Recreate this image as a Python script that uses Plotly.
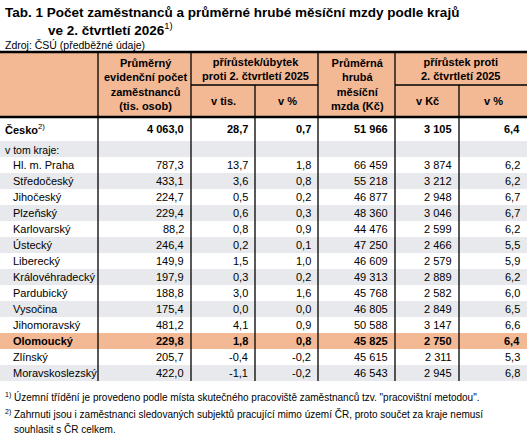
import plotly.graph_objects as go

regions = ["Česko", "v tom kraje:", "Hl. m. Praha", "Středočeský", "Jihočeský", "Plzeňský",
           "Karlovarský", "Ústecký", "Liberecký", "Královéhradecký", "Pardubický", "Vysočina",
           "Jihomoravský", "Olomoucký", "Zlínský", "Moravskoslezský"]
employees = ["4 063,0", "", "787,3", "433,1", "224,7", "229,4", "88,2", "246,4", "149,9", "197,9",
             "188,8", "175,4", "481,2", "229,8", "205,7", "422,0"]
emp_diff = ["28,7", "", "13,7", "3,6", "0,5", "0,6", "0,8", "0,2", "1,5", "0,3", "3,0", "0,0",
            "4,1", "1,8", "-0,4", "-1,1"]
emp_pct = ["0,7", "", "1,8", "0,8", "0,2", "0,3", "0,9", "0,1", "1,0", "0,2", "1,6", "0,0",
           "0,9", "0,8", "-0,2", "-0,2"]
wage = ["51 966", "", "66 459", "55 218", "46 877", "48 360", "44 476", "47 250", "46 609",
        "49 313", "45 768", "46 805", "50 588", "45 825", "45 615", "46 543"]
wage_diff = ["3 105", "", "3 874", "3 212", "2 948", "3 046", "2 599", "2 466", "2 579", "2 889",
             "2 582", "2 849", "3 147", "2 750", "2 311", "2 945"]
wage_pct = ["6,4", "", "6,2", "6,2", "6,7", "6,7", "6,2", "5,5", "5,9", "6,2", "6,0", "6,5",
            "6,6", "6,4", "5,3", "6,8"]
highlight = "Olomoucký"

SALMON = "#F3B894"
GREY = "#E7E9EC"
FONT = "Liberation Sans, Arial, sans-serif"
cols = [0, 98, 191, 255, 318, 395, 459, 527]

# row geometry
row_tops = [117, 141] + [157 + 16 * i for i in range(14)]
row_bottoms = row_tops[1:] + [381]

shapes, ann = [], []


def rect(x0, y0, x1, y1, color):
    shapes.append(dict(type="rect", x0=x0, y0=y0, x1=x1, y1=y1, fillcolor=color,
                       line=dict(width=0), layer="below"))


def line(x0, y0, x1, y1, w=1.3):
    shapes.append(dict(type="line", x0=x0, y0=y0, x1=x1, y1=y1, line=dict(color="black", width=w)))


def text(x, y, s, size=11, bold=False, anchor="left", color="black"):
    if bold:
        s = "<b>" + s + "</b>"
    ann.append(dict(x=x, y=y, text=s, showarrow=False, xanchor=anchor, yanchor="middle",
                    font=dict(family=FONT, size=size, color=color), align="center"))


# header
rect(0, 52, 527, 116, SALMON)
for i, (r, t, b) in enumerate(zip(regions, row_tops, row_bottoms)):
    if r == highlight:
        rect(0, t, 527, b, SALMON)
    elif i >= 1 and i % 2 == 1:
        rect(0, t, 527, b, GREY)

line(0, 52, 527, 52, 2.5)
line(0, 117, 527, 117, 2.5)
line(191, 85, 318, 85)
line(395, 85, 527, 85)
for x in cols[1:-1]:
    y0 = 85 if x in (255, 459) else 52
    line(x, y0, x, 381)

text(145, 84, "Průměrný<br>evidenční počet<br>zaměstnanců<br>(tis. osob)", bold=True, anchor="center")
text(255, 69, "přírůstek/úbytek<br>proti 2. čtvrtletí 2025", bold=True, anchor="center")
text(223, 101, "v tis.", bold=True, anchor="center")
text(287, 101, "v %", bold=True, anchor="center")
text(357, 84, "Průměrná<br>hrubá<br>měsíční<br>mzda (Kč)", bold=True, anchor="center")
text(461, 69, "přírůstek proti<br>2. čtvrtletí 2025", bold=True, anchor="center")
text(427, 101, "v Kč", bold=True, anchor="center")
text(493, 101, "v %", bold=True, anchor="center")

values = [employees, emp_diff, emp_pct, wage, wage_diff, wage_pct]
for i, (r, t, b) in enumerate(zip(regions, row_tops, row_bottoms)):
    yc = (t + b) / 2
    bold = r in ("Česko", highlight)
    if r == "Česko":
        text(3, yc, "<b>Česko</b><sup>2)</sup>", size=11)
    elif r == "v tom kraje:":
        text(3, yc + 1, r, size=10.5)
    else:
        text(11, yc, r, size=11, bold=bold)
    for c, vals in enumerate(values):
        if vals[i]:
            text(cols[c + 2] - 5, yc, vals[i], bold=bold, anchor="right")

text(3, 12, "Tab. 1 Počet zaměstnanců a průměrné hrubé měsíční mzdy podle krajů", size=13.5, bold=True)
text(46, 29, "<b>ve 2. čtvrtletí 2026</b><sup>1)</sup>", size=13.5)
text(3, 45, "Zdroj: ČSÚ (předběžné údaje)", size=10.5)
text(3, 397, "<sup>1)</sup> Územní třídění je provedeno podle místa skutečného pracoviště zaměstnanců tzv. \"pracovištní metodou\".", size=10)
text(3, 414, "<sup>2)</sup> Zahrnuti jsou i zaměstnanci sledovaných subjektů pracující mimo území ČR, proto součet za kraje nemusí", size=10)
text(12, 429, "souhlasit s ČR celkem.", size=10)

fig = go.Figure()
fig.update_layout(
    width=527, height=441, margin=dict(l=0, r=0, t=0, b=0),
    paper_bgcolor="white", plot_bgcolor="white",
    xaxis=dict(range=[0, 527], visible=False, fixedrange=True),
    yaxis=dict(range=[441, 0], visible=False, fixedrange=True),
    shapes=shapes, annotations=ann, showlegend=False,
)
fig.write_html("out.html", config={"displayModeBar": False},
               post_script="document.body.style.margin='0';document.body.style.overflow='hidden';")
